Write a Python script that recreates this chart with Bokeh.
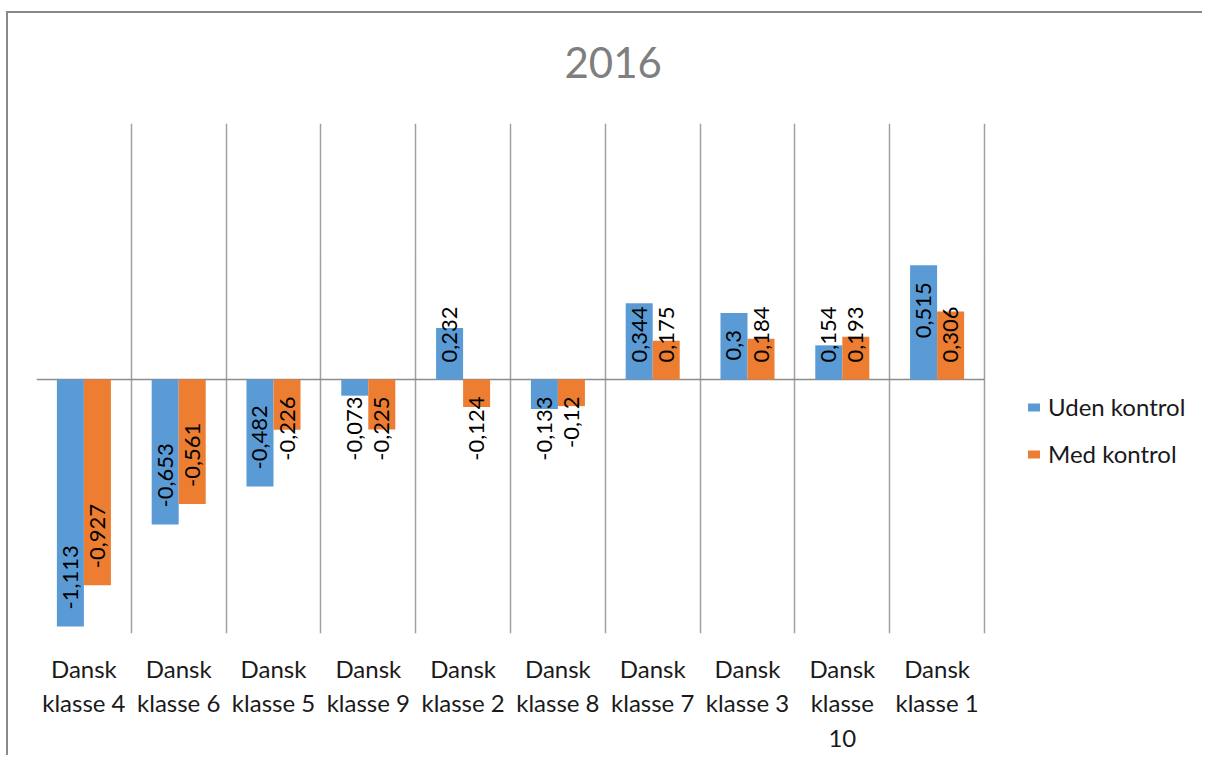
import math
from bokeh.plotting import figure
from bokeh.models import (Range1d, FixedTicker, CustomJSTickFormatter, Legend,
                          LegendItem, ColumnDataSource)
from bokeh.core.properties import value
from bokeh.embed import file_html
from bokeh.resources import INLINE

# ---------------- data ----------------
chart_title = "2016"
categories = ["Dansk klasse 4", "Dansk klasse 6", "Dansk klasse 5", "Dansk klasse 9",
              "Dansk klasse 2", "Dansk klasse 8", "Dansk klasse 7", "Dansk klasse 3",
              "Dansk klasse 10", "Dansk klasse 1"]
tick_labels = ["Dansk\nklasse 4", "Dansk\nklasse 6", "Dansk\nklasse 5", "Dansk\nklasse 9",
               "Dansk\nklasse 2", "Dansk\nklasse 8", "Dansk\nklasse 7", "Dansk\nklasse 3",
               "Dansk\nklasse\n10", "Dansk\nklasse 1"]
series_names = ["Uden kontrol", "Med kontrol"]
uden_kontrol = [-1.113, -0.653, -0.482, -0.073, 0.232, -0.133, 0.344, 0.3, 0.154, 0.515]
med_kontrol = [-0.927, -0.561, -0.226, -0.225, -0.124, -0.12, 0.175, 0.184, 0.193, 0.306]
series_colors = ["#5b9bd5", "#ed7d31"]

# ---------------- layout ----------------
FONT = "Lato"
N = len(categories)
Y_MIN, Y_MAX = -1.1447, 1.1537
FRAME_H = 510
PX = FRAME_H / (Y_MAX - Y_MIN)          # pixels per data unit (y)
CAT_PX = 94.8                            # pixels per category
W, H = 1196, 744
BORDER_L, BORDER_T, BORDER_B = 28, 110, 124
FRAME_W = W - BORDER_L
X_END = FRAME_W / CAT_PX                 # empty room on the right holds the legend
BAR_W = 0.285
LBL_SIZE = 22

p = figure(width=W, height=H, output_backend="svg", toolbar_location=None,
           x_range=Range1d(0, X_END), y_range=Range1d(Y_MIN, Y_MAX),
           min_border_left=BORDER_L, min_border_right=0, min_border_top=BORDER_T,
           min_border_bottom=BORDER_B, outline_line_color=None,
           styles={"margin-left": "6px", "margin-top": "11px",
                   "border-top": "2px solid #898989",
                   "border-left": "2px solid #898989"})

p.title.text = chart_title
p.title.align = "left"
p.title.offset = 528
p.title.text_font = FONT
p.title.text_font_style = "normal"
p.title.text_font_size = "42px"
p.title.text_color = "#7f7f7f"
try:
    p.title.padding = dict(left=0, right=0, top=0, bottom=16)
    p.title.standoff = 60
except Exception:
    p.title.standoff = 78

# axes
p.yaxis.visible = False
p.ygrid.visible = False
xa = p.xaxis[0]
xa.ticker = FixedTicker(ticks=[i + 0.5 for i in range(N)])
xa.formatter = CustomJSTickFormatter(args=dict(labels=tick_labels),
                                     code="return labels[Math.floor(tick)] || ''")
xa.axis_line_color = None
xa.major_tick_line_color = None
xa.minor_tick_line_color = None
xa.major_label_text_font = FONT
xa.major_label_text_font_size = "24px"
xa.major_label_text_color = "#1a1a1a"
xa.major_label_standoff = 14
p.xgrid.ticker = FixedTicker(ticks=list(range(N + 1)))
p.xgrid.grid_line_color = "#a0a0a0"
p.xgrid.grid_line_width = 1.5

# zero line (spans the categories only)
p.segment(x0=[0], x1=[N], y0=[0], y1=[0], line_color="#8c8c8c", line_width=1.5)

# bars
offsets = [-BAR_W / 2, BAR_W / 2]
renderers = []
for vals, col, off in zip([uden_kontrol, med_kontrol], series_colors, offsets):
    src = ColumnDataSource(dict(x=[i + 0.5 + off for i in range(len(vals))], top=vals))
    r = p.vbar(x="x", top="top", bottom=0, width=BAR_W, source=src,
               fill_color=col, line_color=None)
    renderers.append(r)

# data labels (inside end, clamped away from the zero line)
def text_len_px(s):
    w = 0.0
    for ch in s:
        if ch.isdigit():
            w += 0.58
        elif ch == ",":
            w += 0.24
        else:
            w += 0.33
    return w * LBL_SIZE

PAD_END = 17 / PX
PAD_ZERO = 17 / PX
groups = {"left": dict(x=[], y=[], t=[]), "right": dict(x=[], y=[], t=[])}
for vals, off in zip([uden_kontrol, med_kontrol], offsets):
    for i, v in enumerate(vals):
        txt = str(v).replace(".", ",")
        L = text_len_px(txt) / PX
        x = i + 0.5 + off
        fits = abs(v) - PAD_END - L >= PAD_ZERO
        if v < 0:
            if fits:
                g, y = "left", v + PAD_END
            else:
                g, y = "right", -PAD_ZERO
        else:
            if fits:
                g, y = "right", v - PAD_END
            else:
                g, y = "left", PAD_ZERO
        groups[g]["x"].append(x)
        groups[g]["y"].append(y)
        groups[g]["t"].append(txt)

for align, d in groups.items():
    p.text(x=d["x"], y=d["y"], text=d["t"], angle=math.pi / 2,
           text_align=align, text_baseline="middle",
           text_font=value(FONT), text_font_size=f"{LBL_SIZE}px", text_color="#000000")

# legend (sits in the empty right part of the frame)
legend = Legend(items=[LegendItem(label=n, renderers=[r]) for n, r in zip(series_names, renderers)],
                location=(990, 165), padding=0, margin=0, spacing=18,
                glyph_width=15, glyph_height=10, label_standoff=7,
                label_text_font=FONT, label_text_font_size="24px",
                label_text_color="#1a1a1a", border_line_color=None,
                background_fill_alpha=0)
p.add_layout(legend, "center")

open("out.html", "w").write(file_html(p, INLINE))
